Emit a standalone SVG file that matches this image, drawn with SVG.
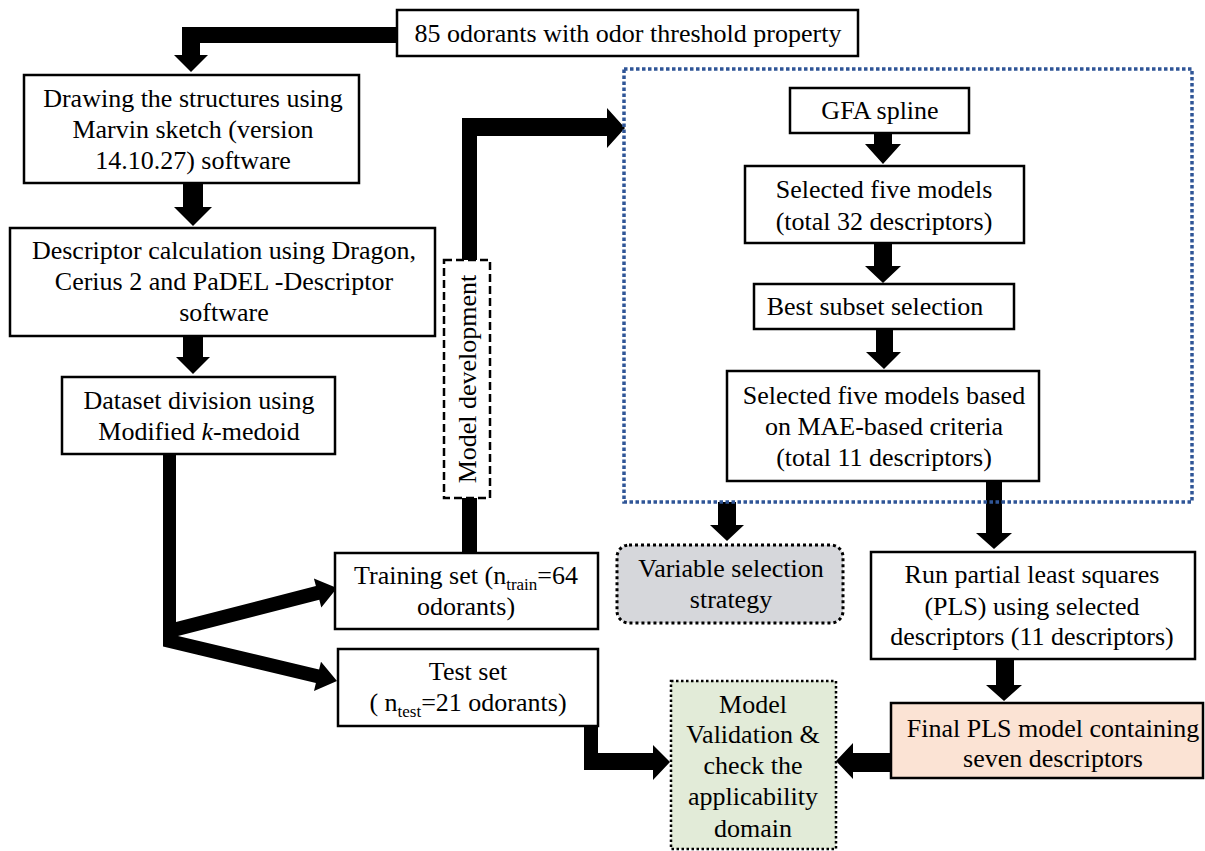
<svg xmlns="http://www.w3.org/2000/svg" width="1205" height="851" viewBox="0 0 1205 851">
<style>
.box{fill:#ffffff;stroke:#000;stroke-width:2.5}
.t{font-family:"Liberation Serif","Times New Roman",serif;font-size:26px;fill:#000;text-anchor:middle}
.sub{font-size:17px}
.arr{fill:#000;stroke:none}
</style>
<rect width="1205" height="851" fill="#ffffff"/>

<g id="connectors">
  <polygon class="arr" points="397,27 182,27 182,55 174,55 191,72 208,55 200,55 200,43 397,43"/>
  <polygon class="arr" points="183,183 203,183 203,207 212,207 193,226 174,207 183,207"/>
  <polygon class="arr" points="183,336 203,336 203,357 210,357 193,374 176,357 183,357"/>
  <polygon class="arr" points="163,454 176,454 176,622 315.9,586.1 313.9,578.4 337,588 321.3,607.4 319.3,599.7 178,636 319.1,669.5 321,661.7 337,681 314,690.9 315.9,683.1 163,646.5"/>
  <polygon class="arr" points="462,260 462,118 607,118 607,108 625,128 607,148 607,136 477,136 477,260"/>
  <rect class="arr" x="462" y="498" width="15" height="55"/>
  <polygon class="arr" points="874,133 892,133 892,144 901,144 883,164 865,144 874,144"/>
  <polygon class="arr" points="874,243 892,243 892,266 901,266 883,283 865,266 874,266"/>
  <polygon class="arr" points="876,329 893,329 893,352 901,352 884,369 866,352 876,352"/>
  <polygon class="arr" points="718,502 736,502 736,525 744,525 727,541 710,525 718,525"/>
  <polygon class="arr" points="986,481 1002,481 1002,533 1012,533 994,549 976,533 986,533"/>
  <polygon class="arr" points="996,659 1014,659 1014,685 1022,685 1004,701 986,685 996,685"/>
  <polygon class="arr" points="891,753 891,772 853,772 853,779 836,761 853,743 853,753"/>
  <polygon class="arr" points="584,726 598,726 598,753 653,753 653,745 670,762 653,780 653,770 584,770"/>
</g>

<g id="group-box">
  <rect x="624" y="69" width="568" height="433" fill="none" stroke="#2F5597" stroke-width="3.5" stroke-dasharray="3.5 2.5"/>
</g>

<g id="n-odorants">
  <rect class="box" x="397" y="10" width="461" height="46"/>
  <text class="t" x="628" y="42">85 odorants with odor threshold property</text>
</g>

<g id="n-drawing">
  <rect class="box" x="24" y="75" width="335" height="108"/>
  <text class="t" x="193" y="107">Drawing the structures using</text>
  <text class="t" x="193" y="138">Marvin sketch (version</text>
  <text class="t" x="193" y="169">14.10.27) software</text>
</g>

<g id="n-descriptor">
  <rect class="box" x="10" y="228" width="425" height="108"/>
  <text class="t" x="224" y="259">Descriptor calculation using Dragon,</text>
  <text class="t" x="224" y="290">Cerius 2 and PaDEL -Descriptor</text>
  <text class="t" x="224" y="321">software</text>
</g>

<g id="n-division">
  <rect class="box" x="62" y="377" width="273" height="77"/>
  <text class="t" x="199" y="409">Dataset division using</text>
  <text class="t" x="199" y="440">Modified <tspan font-style="italic">k</tspan>-medoid</text>
</g>

<g id="n-modeldev">
  <rect x="444" y="260" width="46" height="238" fill="#ffffff" stroke="#000" stroke-width="2.5" stroke-dasharray="8 4"/>
  <text class="t" transform="translate(476,379) rotate(-90)" x="0" y="0">Model development</text>
</g>

<g id="n-training">
  <rect class="box" x="335" y="553" width="263" height="76"/>
  <text class="t" x="466" y="584">Training set (n<tspan class="sub" dy="6">train</tspan><tspan dy="-6">=64</tspan></text>
  <text class="t" x="466" y="615">odorants)</text>
</g>

<g id="n-test">
  <rect class="box" x="338" y="649" width="260" height="77"/>
  <text class="t" x="468" y="680">Test set</text>
  <text class="t" x="468" y="711">( n<tspan class="sub" dy="6">test</tspan><tspan dy="-6">=21 odorants)</tspan></text>
</g>

<g id="n-gfa">
  <rect class="box" x="790" y="88" width="179" height="45"/>
  <text class="t" x="880" y="119">GFA spline</text>
</g>

<g id="n-selected32">
  <rect class="box" x="745" y="166" width="279" height="77"/>
  <text class="t" x="884" y="198">Selected five models</text>
  <text class="t" x="884" y="230">(total 32 descriptors)</text>
</g>

<g id="n-bestsubset">
  <rect class="box" x="754" y="284" width="260" height="45"/>
  <text class="t" x="875" y="315">Best subset selection</text>
</g>

<g id="n-selected11">
  <rect class="box" x="727" y="371" width="312" height="110"/>
  <text class="t" x="884" y="404">Selected five models based</text>
  <text class="t" x="884" y="435">on MAE-based criteria</text>
  <text class="t" x="884" y="466">(total 11 descriptors)</text>
</g>

<g id="n-variable">
  <rect x="617" y="545" width="226" height="78" rx="12" ry="12" fill="#D6D7DB" stroke="#000" stroke-width="3" stroke-dasharray="3 3"/>
  <text class="t" x="731" y="577">Variable selection</text>
  <text class="t" x="731" y="608">strategy</text>
</g>

<g id="n-pls">
  <rect class="box" x="871" y="552" width="324" height="107"/>
  <text class="t" x="1032" y="583">Run partial least squares</text>
  <text class="t" x="1032" y="615">(PLS) using selected</text>
  <text class="t" x="1032" y="645">descriptors (11 descriptors)</text>
</g>

<g id="n-final">
  <rect x="891" y="703" width="312" height="75" fill="#FBE3D4" stroke="#000" stroke-width="2.5"/>
  <text class="t" x="1053" y="737">Final PLS model containing</text>
  <text class="t" x="1053" y="767">seven descriptors</text>
</g>

<g id="n-validation">
  <rect x="671" y="681" width="165" height="168" fill="#E2EBD8" stroke="#000" stroke-width="2.5" stroke-dasharray="2.5 2.5"/>
  <text class="t" x="753" y="713">Model</text>
  <text class="t" x="753" y="743">Validation &amp;</text>
  <text class="t" x="753" y="774">check the</text>
  <text class="t" x="753" y="805">applicability</text>
  <text class="t" x="753" y="837">domain</text>
</g>
</svg>
